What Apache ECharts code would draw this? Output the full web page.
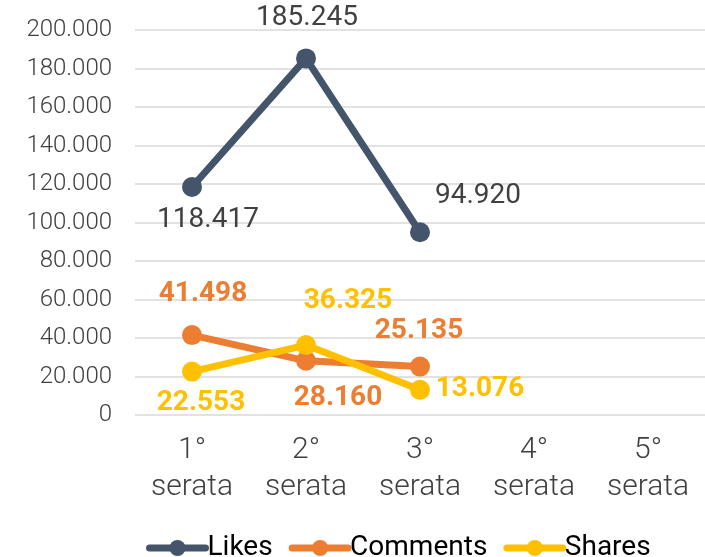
<!DOCTYPE html>
<html><head><meta charset="utf-8">
<script src="https://cdn.jsdelivr.net/npm/echarts@6/dist/echarts.min.js"></script>
<style>html,body{margin:0;padding:0;background:#fff}#c{width:705px;height:557px}</style>
</head><body><div id="c"></div>
<script>
const categories = ['1°\nserata','2°\nserata','3°\nserata','4°\nserata','5°\nserata'];
const likes = [118417, 185245, 94920, null, null];
const comments = [41498, 28160, 25135, null, null];
const shares = [22553, 36325, 13076, null, null];
const yTicks = {min: 0, max: 200000, interval: 20000};

const FONT = 'Roboto';
function fmt(v){ return String(Math.round(v)).replace(/\B(?=(\d{3})+(?!\d))/g,'.'); }
// label placement per point (style only): offset of label centre from marker centre
const likesLab = [[16,33],[1,-40],[58,-36]];
const commLab = [[11,-41],[32,37],[-1,-36]];
const shareLab = [[9,31],[42,-44],[60,-1]];

function mk(name, vals, color, labs, lblColor, bold){
  return {
    name, type:'line',
    data: vals.map((v,i)=> v==null? null : ({value:v, label:{position:'inside', offset:labs[i]}})),
    symbol:'circle', symbolSize:20, lineStyle:{width:7,color,cap:'round'}, itemStyle:{color},
    connectNulls:false,
    label:{show:true, color:lblColor, fontSize:28, fontFamily:FONT, fontWeight: bold?'bold':'normal',
      align:'center', verticalAlign:'middle', formatter:p=>fmt(p.value)}
  };
}
const chart = echarts.init(document.getElementById('c'));
chart.setOption({
  animation:false,
  grid:{left:135, right:0, top:30, bottom:142},
  legend:{bottom:-5, left:146, padding:0, itemWidth:56, itemHeight:20, itemGap:16,
    lineStyle:{width:7, cap:'round'}, textStyle:{fontSize:28, fontFamily:FONT, color:'#000', padding:[0,0,0,-3]},
    data:['Likes','Comments','Shares']},
  xAxis:{type:'category', data:categories, boundaryGap:true,
    axisLine:{show:false}, axisTick:{show:false},
    axisLabel:{fontSize:30, fontFamily:FONT, fontWeight:300, color:'#404040', lineHeight:37, margin:17}},
  yAxis:{type:'value', min:yTicks.min, max:yTicks.max, interval:yTicks.interval,
    axisLabel:{fontSize:24, fontFamily:FONT, fontWeight:300, color:'#404040', formatter:v=>fmt(v), margin:23},
    splitLine:{lineStyle:{color:'#D9D9D9', width:1.5}}, axisLine:{show:false}, axisTick:{show:false}},
  series:[
    mk('Likes', likes, '#44546A', likesLab, '#404040', false),
    mk('Comments', comments, '#ED7D31', commLab, '#ED7D31', true),
    mk('Shares', shares, '#FFC000', shareLab, '#FFC000', true)
  ]
});
</script></body></html>
